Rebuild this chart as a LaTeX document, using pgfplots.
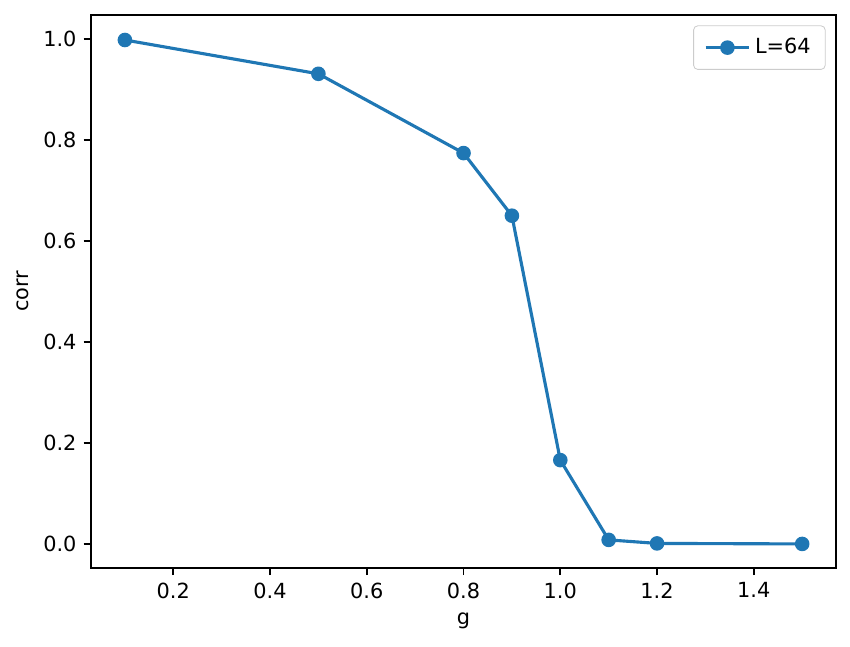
\documentclass[border=0pt]{standalone}
\usepackage{pgfplots}
\pgfplotsset{compat=1.18}
\usepackage{fontspec}
\setmainfont{DejaVu Sans}
\definecolor{tabblue}{HTML}{1F77B4}

\begin{document}
\begin{tikzpicture}
\begin{axis}[
    scale only axis,
    width=357.6pt,
    height=265.4pt,
    xmin=0.03, xmax=1.57,
    ymin=-0.0475, ymax=1.0475,
    xtick={0.2,0.4,0.6,0.8,1.0,1.2,1.4},
    ytick={0,0.2,0.4,0.6,0.8,1.0},
    xticklabel style={/pgf/number format/.cd,fixed,fixed zerofill,precision=1},
    yticklabel style={/pgf/number format/.cd,fixed,fixed zerofill,precision=1},
    /pgf/number format/assume math mode=true,
    tick align=outside,
    tick pos=left,
    major tick length=3.5pt,
    tick style={black, line width=0.8pt},
    axis line style={line width=0.8pt},
    ticklabel style={font=\fontsize{10}{12}\selectfont},
    xlabel={g},
    ylabel={corr},
    label style={font=\fontsize{10}{12}\selectfont},
    legend style={font=\fontsize{10}{12}\selectfont, draw=black!20, rounded corners=2pt,
        at={(1,1)}, anchor=north east, xshift=-5pt, yshift=-5pt,
        inner xsep=5pt, inner ysep=4pt},
    legend cell align=left,
    legend image code/.code={
        \draw[mark repeat=2, mark phase=2, #1] plot coordinates {(0pt,0pt) (10.5pt,0pt) (21pt,0pt)};
    },
]
\addplot[tabblue, line width=1.5pt, mark=*, mark size=3pt, mark options={fill=tabblue, draw=tabblue, line width=1pt}]
coordinates {
    (0.1, 0.998)
    (0.5, 0.931)
    (0.8, 0.774)
    (0.9, 0.650)
    (1.0, 0.166)
    (1.1, 0.008)
    (1.2, 0.001)
    (1.5, 0.000)
};
\addlegendentry{L=64}
\path (rel axis cs:0,0) ++(-43.7pt,-37.9pt) coordinate (bl);
\path (rel axis cs:1,1) ++(6.7pt,7.2pt) coordinate (tr);
\end{axis}
\useasboundingbox (bl) rectangle (tr);
\end{tikzpicture}
\end{document}
